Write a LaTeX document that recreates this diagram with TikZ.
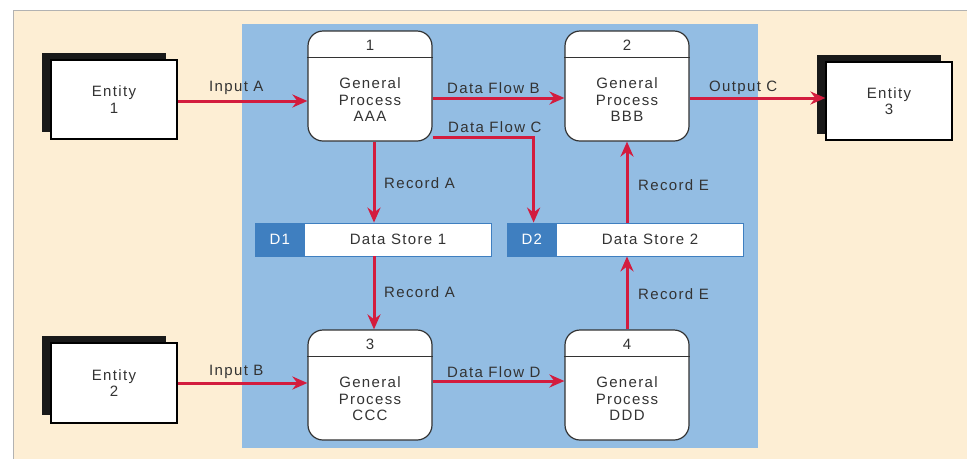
\documentclass[tikz,border=0pt]{standalone}
\usepackage{fontspec}
\setmainfont{Liberation Sans}[LetterSpace=9]
\usetikzlibrary{arrows.meta,positioning}
\definecolor{paper}{HTML}{FDEED4}
\definecolor{panel}{HTML}{93BDE3}
\definecolor{storeid}{HTML}{3F7FC0}
\definecolor{flowred}{HTML}{D31C3E}
\definecolor{ink}{HTML}{333333}
\tikzset{
  txt/.style={font=\fontsize{15}{16.5}\selectfont, text=ink, inner sep=0pt},
  proc/.style={draw=ink, line width=1.2pt, fill=white, rounded corners=15pt,
               minimum width=124pt, minimum height=110pt, inner sep=0pt},
  ent/.style={draw=black, line width=1.2pt, fill=white, minimum width=126pt,
              minimum height=79pt, inner sep=0pt, align=center, txt},
  shade/.style={fill=black!90},
  store/.style={draw=storeid, line width=0.8pt, fill=white, minimum width=236pt,
                minimum height=33pt, inner sep=0pt},
  sid/.style={fill=storeid, minimum width=50pt, minimum height=33pt, inner sep=0pt,
              text=white, font=\fontsize{15}{16.5}\selectfont},
  flow/.style={draw=flowred, line width=3pt,
               -{Stealth[length=15pt,width=13pt]}},
  lbl/.style={txt, anchor=west},
}
\begin{document}
\begin{tikzpicture}[x=1pt,y=-1pt]
\useasboundingbox (0,0) rectangle (967,459);
% page background
\fill[white] (0,0) rectangle (967,459);
\fill[paper] (13,10) rectangle (967,459);
\draw[black!30, line width=0.8pt] (13,459) -- (13,10) -- (967,10);
% system boundary panel
\fill[panel] (242,24) rectangle (758,448);

% external entities (shadow first, then the front card)
\fill[shade] (42,53) rectangle (166,132);
\node[ent] (e1) at (114,99.5) {Entity\\1};
\fill[shade] (42,336) rectangle (166,415);
\node[ent, minimum height=80pt] (e2) at (114,383) {Entity\\2};
\fill[shade] (817,55) rectangle (941,134);
\node[ent, minimum height=78pt] (e3) at (889,101) {Entity\\3};

% processes
\foreach \n/\x/\y/\id/\name in {p1/370/86/1/AAA, p2/627/86/2/BBB, p3/370/385/3/CCC, p4/627/385/4/DDD}{
  \node[proc] (\n) at (\x,\y) {};
  \draw[ink, line width=1.2pt] ([yshift=-27pt]\n.north west) -- ([yshift=-27pt]\n.north east);
  \node[txt] (\n id) at ([yshift=-15pt]\n.north) {\id};
  \node[txt, align=center] (\n txt) at ([yshift=-14pt]\n.center) {General\\Process\\\name};
}

% data stores
\node[store] (ds1) at (373,239.5) {};
\node[sid, anchor=west] (ds1id) at (ds1.west) {D1};
\node[txt] (ds1txt) at ([xshift=25pt]ds1.center) {Data Store 1};
\node[store] (ds2) at (625,239.5) {};
\node[sid, anchor=west] (ds2id) at (ds2.west) {D2};
\node[txt] (ds2txt) at ([xshift=25pt]ds2.center) {Data Store 2};

% data flows
\draw[flow] ([yshift=-1.5pt]e1.east) -- ([yshift=-1.5pt]e1.east -| p1.west);
\draw[flow] ([yshift=-12pt]p1.east) -- ([yshift=-12pt]p1.east -| p2.west);
\draw[flow] ([yshift=-12pt]p2.east) -- ([yshift=-12pt]p2.east -| e3.west);
\coordinate (cbend) at ([xshift=27pt]ds2.north west);
\draw[flow] ([yshift=-51pt]p1.east) -| (cbend);
\draw[flow] ([xshift=4pt]p1.south) -- ([xshift=4pt]p1.south |- ds1.north);
\draw[flow] ([xshift=4pt]p1.south |- ds1.south) -- ([xshift=4pt]p3.north);
\draw[flow] (p2.south |- ds2.north) -- (p2.south);
\draw[flow] (p4.north) -- (p4.north |- ds2.south);
\draw[flow] (e2.east) -- (e2.east -| p3.west);
\draw[flow] ([yshift=4pt]p3.east) -- ([yshift=4pt]p3.east -| p4.west);

% flow labels
\node[lbl] (lA) at (209,88) {Input A};
\node[lbl] (lB) at (447,88) {Data Flow B};
\node[lbl] (lC) at (448,127) {Data Flow C};
\node[lbl] (lO) at (709,88) {Output C};
\node[lbl] (lRA1) at (384,183) {Record A};
\node[lbl] (lRE1) at (638,185) {Record E};
\node[lbl] (lRA2) at (384,292) {Record A};
\node[lbl] (lRE2) at (638,294) {Record E};
\node[lbl] (lIB) at (209,372) {Input B};
\node[lbl] (lD) at (447,372) {Data Flow D};
\end{tikzpicture}
\end{document}
